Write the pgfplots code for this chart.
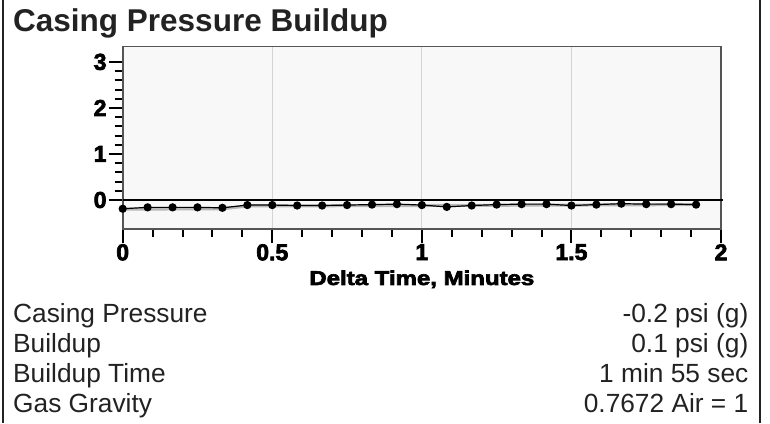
\documentclass[border=0pt]{standalone}
\usepackage{fontspec}
\setmainfont{Liberation Sans}
\newfontfamily\heavyfont[FakeBold=3]{Liberation Sans}
\usepackage{graphicx}
\usepackage{pgfplots}
\pgfplotsset{compat=1.18}
\definecolor{txt}{HTML}{222222}
\definecolor{plotbg}{HTML}{F8F8F8}
\definecolor{gridc}{HTML}{D4D4D4}
\definecolor{boxc}{HTML}{555555}
\begin{document}
\begin{tikzpicture}[x=1pt,y=1pt]
\useasboundingbox (0,0) rectangle (770,423);
\draw[line width=2.5pt, txt] (3,0) -- (3,423);
\draw[line width=2.5pt, txt] (760,0) -- (760,423);
\node[anchor=base west, inner sep=0, font=\bfseries\fontsize{31.5}{31.5}\selectfont, text=txt] at (13,391.3) {Casing Pressure Buildup};
\begin{axis}[
 at={(122.7pt,194pt)}, anchor=south west, scale only axis, width=598.3pt, height=182.3pt,
 xmin=0,xmax=2,ymin=-0.63,ymax=3.33,
 xtick={0,0.5,1,1.5,2}, xticklabels={0,0.5,1,1.5,2},
 ytick={0,1,2,3}, yticklabels={0,1,2,3},
 minor x tick num=4, minor y tick num=4,
 tick align=outside, xtick pos=bottom, ytick pos=left,
 major tick length=14pt, minor tick length=8pt,
 tick style={black, line width=2pt},
 xmajorgrids, major x grid style={gridc, line width=1.2pt},
 axis background/.style={fill=plotbg},
 axis line style={boxc, line width=1.6pt},
 tick label style={font=\heavyfont\bfseries\fontsize{23}{23}\selectfont},
 xticklabel style={inner sep=1pt},
 yticklabel style={inner sep=2pt},
 xlabel={\scalebox{1.2}[1]{Delta Time, Minutes}},
 xlabel style={at={(axis description cs:0.5,0)}, anchor=base, yshift=-56pt, font=\heavyfont\bfseries\fontsize{20}{20}\selectfont},
 clip=false,
]
\draw[black, line width=1.2pt] (axis cs:0,0) -- (axis cs:2.006,0);
\addplot[gray!55, line width=3pt] coordinates {
(0,-0.20) (0.333,-0.19) (0.42,-0.13) (1.0,-0.12) (1.5,-0.11) (1.917,-0.10)};
\addplot[black, line width=1.2pt, mark=*, mark size=3.5pt] coordinates {
(0.0000,-0.19) (0.0833,-0.16) (0.1667,-0.16) (0.2500,-0.16) (0.3333,-0.17)
(0.4167,-0.11) (0.5000,-0.11) (0.5833,-0.12) (0.6667,-0.12) (0.7500,-0.11)
(0.8333,-0.10) (0.9167,-0.09) (1.0000,-0.11) (1.0833,-0.15) (1.1667,-0.12)
(1.2500,-0.10) (1.3333,-0.09) (1.4167,-0.09) (1.5000,-0.12) (1.5833,-0.10)
(1.6667,-0.08) (1.7500,-0.09) (1.8333,-0.09) (1.9167,-0.10)};
\end{axis}
\begin{scope}[font=\fontsize{26.3}{26.3}\selectfont, text=txt]
\node[anchor=base west, inner sep=0] at (13,101) {Casing Pressure};
\node[anchor=base west, inner sep=0] at (13,71) {Buildup};
\node[anchor=base west, inner sep=0] at (13,41) {Buildup Time};
\node[anchor=base west, inner sep=0] at (13,11) {Gas Gravity};
\node[anchor=base east, inner sep=0] at (748.5,101) {-0.2 psi (g)};
\node[anchor=base east, inner sep=0] at (748.5,71) {0.1 psi (g)};
\node[anchor=base east, inner sep=0] at (748.5,41) {1 min 55 sec};
\node[anchor=base east, inner sep=0] at (748.5,11) {0.7672 Air = 1};
\end{scope}
\end{tikzpicture}
\end{document}
